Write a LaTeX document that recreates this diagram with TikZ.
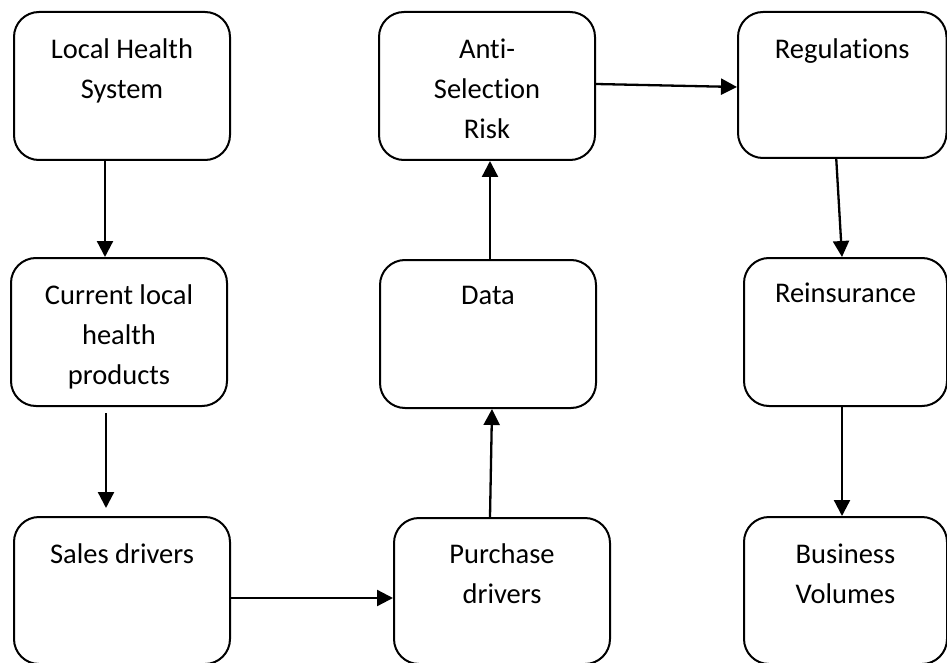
\documentclass[tikz,border=0pt]{standalone}
\usepackage{fontspec}
\setmainfont{Carlito}[RawFeature={-liga}]
\usetikzlibrary{arrows.meta}
\newcommand\fstrut{\rule{0pt}{22pt}}
\tikzset{
  box/.style={draw, line width=2pt, rounded corners=25pt, inner sep=0pt},
  lbl/.style={anchor=north, align=center, inner sep=0pt, font=\fontsize{28.5}{40}\selectfont},
  arr/.style={line width=2.3pt, -{Triangle[length=16pt,width=16pt]}}
}
\begin{document}
\begin{tikzpicture}[x=1pt,y=-1pt]
\useasboundingbox (0,0) rectangle (947,663);
% boxes
\node[box, minimum width=216pt, minimum height=148pt] (A) at (122,86) {};
\node[box, minimum width=216pt, minimum height=148pt] (B) at (119,332) {};
\node[box, minimum width=216pt, minimum height=147pt] (C) at (122,590.5) {};
\node[box, minimum width=216pt, minimum height=146pt] (D) at (502,591) {};
\node[box, minimum width=216pt, minimum height=148pt] (E) at (488,334) {};
\node[box, minimum width=216pt, minimum height=148pt] (F) at (487,86) {};
\node[box, minimum width=208.5pt, minimum height=146pt] (G) at (842.25,85) {};
\node[box, minimum width=203pt, minimum height=148pt] (H) at (845.5,332) {};
\node[box, minimum width=203pt, minimum height=147pt] (I) at (845.5,590.5) {};
% labels
\node[lbl] (At) at ([yshift=-25pt]A.north) {\fstrut Local Health\\System};
\node[lbl] (Bt) at ([yshift=-25pt]B.north) {\fstrut Current local\\health\\products};
\node[lbl] (Ct) at ([yshift=-25pt]C.north) {\fstrut Sales drivers};
\node[lbl] (Dt) at ([yshift=-24pt]D.north) {\fstrut Purchase\\drivers};
\node[lbl] (Et) at ([yshift=-23pt]E.north) {\fstrut Data};
\node[lbl] (Ft) at ([yshift=-25pt]F.north) {\fstrut Anti-\\Selection\\Risk};
\node[lbl] (Gt) at ([yshift=-25pt]G.north) {\fstrut Regulations};
\node[lbl] (Ht) at ([yshift=-23pt]H.north) {\fstrut Reinsurance};
\node[lbl] (It) at ([yshift=-25pt]I.north) {\fstrut Business\\Volumes};
% arrows
\draw[arr] ([xshift=-17pt]A.south) -- ([xshift=-14pt]B.north);
\draw[arr] ([xshift=-13pt,yshift=-6pt]B.south) -- ([xshift=-16pt,yshift=8pt]C.north);
\draw[arr] ([yshift=-7.5pt]C.east) -- ([yshift=-7pt]D.west);
\draw[arr] ([xshift=-12pt]D.north) -- ([xshift=4pt]E.south);
\draw[arr] ([xshift=2pt]E.north) -- ([xshift=3pt]F.south);
\draw[arr] ([yshift=2pt]F.east) -- ([yshift=-2pt]G.west);
\draw[arr] ([xshift=-6pt]G.south) -- ([xshift=-3.5pt]H.north);
\draw[arr] ([xshift=-3.5pt]H.south) -- ([xshift=-3.5pt]I.north);
\end{tikzpicture}
\end{document}
